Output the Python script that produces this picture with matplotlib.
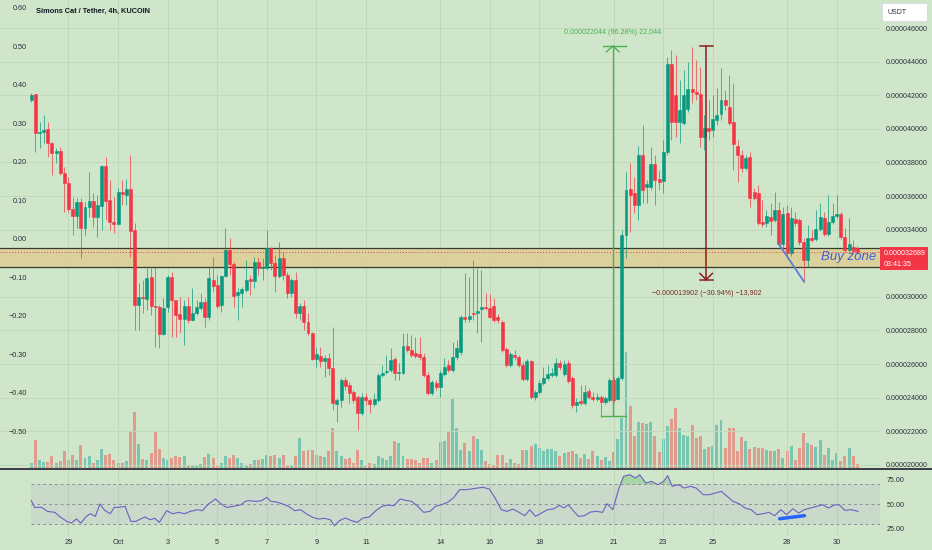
import numpy as np
import matplotlib.pyplot as plt
from matplotlib.patches import Rectangle
from matplotlib.lines import Line2D

plt.rcParams['font.family'] = ['Liberation Sans', 'DejaVu Sans']

# 4h candles of SIMONS/USDT, prices in micro-USDT (1e-6)
opens = [
    41.71, 42.07, 39.75, 39.81, 39.99, 39.16, 38.56, 38.68, 37.37, 36.77,
    35.23, 34.81, 35.64, 34.10, 35.35, 35.70, 34.75, 35.41, 37.79, 35.76,
    34.45, 34.33, 36.24, 36.06, 36.42, 33.98, 29.51, 29.99, 29.87, 31.18,
    29.45, 29.39, 27.79, 29.39, 31.18, 29.81, 28.98, 28.68, 29.45, 28.62,
    29.04, 29.33, 29.69, 28.80, 31.00, 30.70, 29.51, 31.24, 32.79, 31.95,
    30.11, 30.23, 30.40, 31.06, 30.94, 32.07, 31.72, 31.72, 32.91, 32.01,
    31.24, 32.31, 31.30, 30.23, 31.00, 29.04, 29.45, 28.50, 27.85, 26.30,
    26.48, 26.18, 26.36, 25.76, 23.62, 23.86, 25.05, 24.75, 24.33, 24.04,
    23.08, 24.04, 23.86, 23.62, 23.86, 25.35, 25.53, 25.64, 26.30, 25.47,
    25.47, 27.07, 26.83, 26.65, 26.60, 26.42, 25.35, 24.27, 24.87, 24.63,
    25.41, 25.94, 25.64, 26.42, 26.71, 28.80, 28.68, 29.04, 29.04, 29.27,
    29.39, 29.33, 29.45, 28.80, 28.50, 26.89, 25.94, 26.54, 26.42, 25.94,
    25.11, 26.18, 24.04, 24.33, 24.87, 25.17, 25.35, 25.35, 26.06, 25.41,
    26.06, 25.17, 23.56, 23.80, 23.68, 24.39, 24.04, 23.92, 24.04, 23.74,
    23.86, 25.05, 23.92, 25.17, 33.68, 36.42, 36.18, 35.47, 38.44, 36.54,
    36.54, 37.90, 37.01, 36.89, 38.62, 43.86, 42.01, 40.40, 40.34, 41.18,
    42.37, 42.19, 42.07, 39.51, 40.04, 39.93, 40.52, 40.88, 41.71, 41.30,
    40.40, 38.98, 38.44, 37.67, 38.32, 36.24, 36.18, 34.45, 34.39, 34.75,
    34.57, 35.17, 33.14, 34.99, 32.61, 34.63, 34.57, 33.26, 32.19, 33.50,
    33.44, 34.04, 34.69, 33.74, 34.45, 34.81, 34.93, 33.56, 32.79, 32.97,
    32.91]
highs = [
    42.13, 42.07, 40.40, 40.82, 40.40, 39.22, 38.86, 38.92, 37.73, 37.13,
    35.94, 35.88, 35.88, 35.64, 37.43, 36.18, 36.06, 37.85, 38.32, 36.95,
    35.94, 36.48, 36.95, 37.01, 38.44, 34.39, 30.82, 31.00, 31.72, 31.72,
    31.77, 29.51, 29.93, 31.30, 31.48, 29.81, 29.99, 29.81, 29.99, 30.52,
    29.81, 30.23, 29.93, 31.77, 32.37, 31.30, 31.30, 34.10, 33.50, 32.07,
    30.52, 30.58, 32.19, 31.30, 32.37, 32.37, 32.31, 33.98, 32.97, 32.49,
    33.26, 32.67, 31.48, 31.12, 31.48, 29.63, 29.81, 29.04, 27.91, 27.01,
    27.01, 26.54, 26.65, 28.20, 23.98, 25.17, 25.23, 24.93, 24.45, 24.15,
    24.27, 24.27, 23.98, 24.27, 25.47, 25.94, 26.54, 26.95, 26.42, 26.06,
    27.85, 27.85, 27.73, 27.61, 27.61, 26.65, 25.53, 25.05, 25.05, 25.64,
    26.36, 26.24, 27.31, 27.43, 28.92, 31.42, 31.18, 32.19, 31.72, 31.60,
    30.23, 30.17, 29.93, 28.98, 28.62, 27.01, 26.71, 26.83, 26.54, 26.12,
    26.30, 26.24, 24.45, 25.05, 25.82, 25.94, 25.76, 26.36, 26.24, 26.24,
    26.24, 25.29, 23.98, 24.75, 24.75, 24.57, 24.33, 24.27, 24.15, 24.10,
    25.17, 25.23, 25.29, 33.98, 37.43, 37.96, 37.13, 38.98, 40.23, 36.95,
    38.92, 38.44, 37.55, 39.33, 44.27, 44.69, 44.39, 42.90, 43.50, 43.98,
    44.87, 44.10, 43.68, 40.82, 41.71, 42.01, 42.43, 43.62, 42.31, 43.20,
    42.73, 39.33, 38.74, 38.44, 38.62, 36.48, 36.65, 35.76, 35.17, 35.58,
    36.24, 35.64, 35.35, 35.47, 35.35, 35.05, 34.69, 33.50, 34.27, 33.98,
    35.17, 35.58, 35.05, 36.06, 35.58, 36.06, 35.05, 34.10, 34.69, 33.38,
    33.03]
lows = [
    41.60, 38.62, 38.86, 39.16, 38.32, 37.25, 37.96, 37.25, 35.05, 35.05,
    33.68, 34.10, 32.31, 33.68, 34.75, 34.15, 33.56, 33.98, 34.57, 33.98,
    33.80, 34.27, 35.47, 35.47, 32.36, 28.02, 28.02, 29.04, 29.21, 28.92,
    27.01, 26.95, 27.73, 29.10, 27.61, 27.61, 27.85, 27.13, 28.44, 28.55,
    28.92, 29.21, 28.20, 28.62, 30.29, 29.33, 29.10, 31.18, 31.30, 29.39,
    28.62, 29.39, 30.30, 30.11, 30.52, 31.30, 31.00, 31.60, 31.60, 30.29,
    31.12, 31.00, 29.93, 29.99, 28.74, 28.62, 28.02, 27.73, 26.24, 25.82,
    25.82, 25.23, 25.35, 23.26, 22.55, 23.44, 24.45, 23.68, 23.68, 22.07,
    22.96, 23.56, 23.08, 23.50, 23.74, 25.23, 25.41, 25.55, 25.05, 25.05,
    25.40, 26.71, 26.42, 26.36, 26.24, 25.23, 24.15, 24.15, 24.45, 24.04,
    25.29, 25.53, 25.53, 26.24, 26.54, 28.50, 28.50, 28.62, 27.85, 27.31,
    29.21, 28.74, 28.50, 28.44, 26.71, 25.82, 25.82, 26.24, 25.82, 24.99,
    24.99, 23.92, 23.86, 24.21, 24.75, 25.05, 25.23, 25.23, 25.64, 25.29,
    24.87, 23.38, 23.14, 23.56, 23.56, 23.92, 23.80, 23.80, 22.85, 23.62,
    23.74, 23.74, 23.86, 25.05, 32.31, 33.86, 34.99, 34.57, 35.58, 35.58,
    36.36, 35.47, 36.36, 36.18, 38.44, 39.33, 39.51, 39.16, 40.23, 41.00,
    41.54, 41.71, 38.92, 38.74, 39.33, 39.51, 40.23, 40.52, 41.12, 40.23,
    37.55, 36.83, 37.43, 37.55, 35.35, 35.76, 34.27, 34.15, 34.15, 33.68,
    34.45, 32.97, 32.79, 32.31, 32.43, 34.21, 33.08, 30.88, 31.77, 33.26,
    33.32, 33.92, 33.62, 33.62, 34.33, 34.69, 33.44, 32.67, 32.67, 32.61,
    32.55]
closes = [
    42.01, 39.75, 39.81, 39.93, 39.16, 38.56, 38.68, 37.37, 36.77, 35.23,
    34.81, 35.64, 34.10, 35.35, 35.70, 34.75, 35.47, 37.79, 35.70, 34.45,
    34.33, 36.24, 36.12, 36.42, 33.92, 29.51, 29.99, 29.93, 31.12, 29.45,
    29.39, 27.79, 29.33, 31.18, 29.81, 28.92, 28.68, 29.45, 28.62, 29.04,
    29.39, 29.69, 28.80, 31.12, 30.64, 29.45, 31.24, 32.79, 31.95, 30.05,
    30.29, 30.46, 31.00, 30.94, 32.07, 31.72, 31.77, 32.91, 32.01, 31.24,
    32.31, 31.30, 30.23, 31.00, 29.04, 29.45, 28.50, 27.85, 26.30, 26.60,
    26.18, 26.36, 25.76, 23.68, 23.86, 25.05, 24.69, 24.27, 23.86, 23.08,
    24.04, 23.86, 23.62, 23.92, 25.35, 25.47, 25.58, 26.24, 25.47, 25.53,
    27.07, 26.83, 26.54, 26.48, 26.42, 25.35, 24.27, 24.93, 24.63, 25.47,
    25.82, 25.64, 26.42, 26.95, 28.80, 28.68, 28.86, 28.98, 29.16, 29.39,
    29.33, 28.80, 28.62, 28.62, 26.83, 25.94, 26.60, 26.42, 25.94, 25.11,
    26.18, 24.04, 24.33, 24.87, 25.17, 25.41, 25.47, 26.06, 25.82, 26.00,
    24.99, 23.56, 23.74, 23.68, 24.33, 24.04, 23.92, 24.04, 23.74, 23.98,
    25.05, 23.86, 25.17, 33.68, 36.36, 36.06, 35.47, 38.44, 36.36, 36.71,
    37.90, 36.95, 36.83, 38.62, 43.86, 40.40, 40.40, 41.12, 42.01, 42.37,
    42.19, 42.07, 39.51, 40.04, 39.87, 40.58, 40.82, 41.71, 41.42, 40.34,
    39.10, 38.44, 37.67, 38.26, 35.88, 35.88, 34.39, 34.33, 34.81, 34.51,
    35.17, 33.14, 34.93, 32.61, 34.69, 34.39, 33.26, 32.19, 33.50, 33.38,
    34.04, 34.75, 33.74, 34.45, 34.81, 34.93, 33.56, 32.79, 33.14, 32.73,
    32.689]
volume = [
    5, 28, 8, 6, 6, 12, 5, 7, 17, 8,
    13, 8, 23, 10, 12, 5, 8, 19, 13, 14,
    8, 5, 5, 7, 37, 56, 24, 9, 8, 15,
    37, 19, 10, 8, 10, 12, 11, 12, 3, 2,
    3, 4, 11, 14, 10, 2, 5, 12, 10, 13,
    10, 5, 3, 4, 8, 8, 9, 13, 12, 13,
    10, 13, 3, 2, 12, 30, 17, 18, 18, 13,
    12, 11, 17, 40, 17, 12, 9, 10, 5, 18,
    8, 3, 5, 4, 12, 10, 8, 12, 27, 25,
    12, 9, 9, 8, 5, 10, 10, 5, 8, 26,
    27, 36, 70, 40, 18, 25, 17, 32, 29, 18,
    7, 4, 3, 13, 13, 5, 9, 5, 4, 18,
    18, 22, 24, 20, 17, 19, 19, 17, 12, 15,
    16, 17, 14, 10, 14, 9, 17, 12, 8, 11,
    7, 16, 29, 50, 116, 62, 32, 46, 45, 44,
    46, 32, 16, 29, 42, 49, 60, 40, 33, 32,
    43, 30, 32, 19, 21, 22, 43, 48, 20, 40,
    40, 17, 31, 27, 19, 21, 20, 20, 18, 17,
    17, 19, 10, 17, 22, 8, 20, 35, 25, 23,
    21, 28, 13, 20, 8, 15, 7, 12, 20, 12,
    4]

# RSI(14): candle position, value
rsi_pos = [
    0, 0.8, 2.5, 3.9, 5.7, 6.8, 8.6, 9.7, 10.9, 12.0,
    13.3, 14.3, 15.5, 16.6, 17.8, 19.1, 20.1, 21.2, 22.7, 24.1,
    25.3, 26.4, 27.6, 28.7, 29.9, 31.0, 32.8, 34.2, 35.7, 37.1,
    38.5, 40.3, 41.4, 42.9, 44.6, 45.7, 47.2, 48.9, 50.8, 51.8,
    52.9, 54.4, 55.8, 57.0, 58.0, 59.4, 60.9, 62.3, 63.8, 65.2,
    66.6, 68.1, 69.5, 71.0, 72.4, 73.4, 74.6, 76.0, 77.4, 78.9,
    80.3, 81.8, 83.5, 84.9, 86.4, 87.8, 89.3, 90.7, 92.1, 93.6,
    95.0, 96.5, 97.9, 99.3, 100.8, 102.2, 103.7, 105.1, 106.5, 108.0,
    109.4, 110.9, 112.3, 113.8, 115.2, 116.6, 118.1, 119.5, 120.7, 122.1,
    123.5, 125.0, 126.4, 127.9, 129.0, 130.0, 131.0, 132.5, 133.9, 135.4,
    136.8, 138.3, 139.4, 140.8, 142.3, 143.4, 144.9, 146.3, 147.3, 148.8,
    150.2, 151.7, 153.1, 154.1, 155.2, 156.7, 158.1, 159.6, 161.0, 162.7,
    164.2, 165.6, 167.1, 168.5, 169.9, 171.4, 172.8, 174.3, 175.7, 177.2,
    178.6, 180.0, 181.5, 182.9, 184.4, 185.8, 187.2, 188.7, 190.1, 191.6,
    193.0, 194.4, 195.6, 197.0, 198.5, 200.2]
rsi_val = [
    53.4, 46.6, 46.6, 42.5, 41.5, 37.4, 32.3, 30.6, 34.7, 30.6,
    37.4, 40.1, 37.4, 50.0, 43.5, 40.1, 46.6, 46.6, 47.6, 32.3,
    32.3, 34.7, 36.7, 34.0, 35.4, 31.3, 43.2, 40.1, 41.5, 40.1,
    42.5, 44.2, 43.2, 50.0, 55.1, 51.0, 46.6, 47.6, 49.3, 52.7,
    53.4, 52.7, 53.4, 56.8, 52.7, 52.0, 50.0, 47.6, 43.2, 44.2,
    40.1, 36.4, 34.7, 35.4, 34.0, 27.9, 33.0, 35.7, 33.3, 31.3,
    35.7, 36.7, 43.5, 47.6, 49.0, 48.3, 55.1, 53.7, 52.7, 47.6,
    41.5, 42.5, 47.6, 49.3, 51.7, 56.1, 64.6, 64.6, 65.3, 66.3,
    67.0, 65.3, 56.1, 44.2, 42.5, 44.9, 41.5, 38.1, 44.2, 37.4,
    40.8, 44.2, 44.9, 48.6, 45.9, 49.3, 44.2, 37.4, 38.1, 41.8,
    42.5, 41.5, 50.3, 44.2, 66.3, 78.2, 79.9, 76.5, 79.9, 71.4,
    73.1, 69.7, 73.1, 78.9, 68.0, 69.7, 66.3, 68.0, 66.3, 59.5,
    59.5, 61.2, 62.9, 57.8, 52.7, 50.3, 45.9, 44.2, 39.1, 40.1,
    41.5, 38.1, 44.2, 39.1, 45.2, 40.8, 44.2, 45.9, 47.6, 49.3,
    45.9, 49.0, 49.3, 43.5, 44.2, 42.5]

day_pos = [9, 21, 33, 45, 57, 69, 81, 99, 111, 123, 141, 153, 165, 183, 195]
day_labels = ['29', 'Oct', '3', '5', '7', '9', '11', '14', '16', '18',
              '21', '23', '25', '28', '30']

# drawings on the chart
zone_low, zone_high = 31.77, 32.90
up_measure = dict(x=140.8, x0=137.9, x1=144.0, low=22.92, high=44.93)
down_measure = dict(x=163.4, x0=162.0, x1=165.0, high=44.93, low=31.03)
wedge_x, wedge_y = [181, 187.1], [33.14, 30.90]
rsi_trend_x, rsi_trend_y = [181.2, 187.2], [35.0, 38.1]
title = 'Simons Cat / Tether, 4h, KUCOIN'

U = 1e-6
o, h, l, c = (np.array(a) * U for a in (opens, highs, lows, closes))
idx = np.arange(len(closes))
up = c >= o

BG = '#d0e6cb'
GRID = '#c0d9bb'
GREEN = '#089981'
RED = '#f23645'
TXT = '#2a2e39'

W, H = 932, 550
fig = plt.figure(figsize=(W / 100, H / 100), dpi=100, facecolor=BG)


def frame(x0, y0, x1, y1):
    return [x0 / W, 1 - y1 / H, (x1 - x0) / W, (y1 - y0) / H]


xlim = (-7.58, 205.5)

# volume layer (underneath)
ax_vol = fig.add_axes(frame(0, 0, 880, 468))
ax_vol.set_facecolor('none')
vol_col = np.where(up, '#26a69a', '#ef5350')
ax_vol.bar(idx, volume, width=0.72, color=vol_col, alpha=0.5, linewidth=0)
ax_vol.set_xlim(*xlim)
ax_vol.set_ylim(0, 468)
ax_vol.axis('off')

# price layer
ax = fig.add_axes(frame(0, 0, 880, 468))
ax.set_facecolor('none')
ax.set_xlim(*xlim)
ax.set_ylim(19.81 * U, 47.667 * U)
for s in ax.spines.values():
    s.set_visible(False)
ax.yaxis.tick_right()
pt = np.arange(20, 47, 2)
ax.set_yticks(pt * U)
# the 0.000032 label sits under the last-price tag
ax.set_yticklabels(['' if v == 32 else f'{v * U:.9f}' for v in pt])
ax.tick_params(axis='y', length=0, pad=4.5, labelsize=5.1, labelcolor=TXT)
ax.set_xticks(day_pos)
ax.tick_params(axis='x', length=0, labelbottom=False)
ax.grid(True, color=GRID, linewidth=0.7, zorder=0)
ax.set_axisbelow(True)

ax.axhspan(zone_low * U, zone_high * U, color='#dccf98', alpha=0.9, zorder=1, linewidth=0)
for z in (zone_low, zone_high):
    ax.axhline(z * U, color='#3a3a2c', linewidth=0.9, zorder=2)
ax.axhline(c[-1], color=RED, linewidth=0.7, linestyle=(0, (1, 2)), zorder=2)

cols = np.where(up, GREEN, RED)
ax.vlines(idx, l, h, colors=cols, linewidth=0.7, alpha=0.7, zorder=3)
ax.bar(idx, np.abs(c - o), bottom=np.minimum(o, c), width=0.72, color=cols,
       edgecolor=cols, linewidth=0.4, zorder=4)

# long position measure (green)
m = up_measure
gcol = '#4caf50'
ax.plot([m['x'], m['x']], [m['low'] * U, m['high'] * U], color=gcol, lw=1, zorder=5)
ax.plot([m['x0'], m['x1']], [m['low'] * U] * 2, color=gcol, lw=1, zorder=5)
ax.plot([m['x0'] + 0.5, m['x1']], [m['high'] * U] * 2, color=gcol, lw=1, zorder=5)
ax.plot([m['x'] - 1.5, m['x'], m['x'] + 1.5],
        [(m['high'] - 0.34) * U, m['high'] * U, (m['high'] - 0.34) * U], color=gcol, lw=1, zorder=5)
ax.text(m['x'], 45.76 * U, '0.000022044 (96.28%) 22,044', color=gcol, fontsize=5.1,
        ha='center', va='center', zorder=6)

# drop measure (dark red)
m = down_measure
dcol = '#8b1e1e'
ax.plot([m['x'], m['x']], [m['high'] * U, m['low'] * U], color=dcol, lw=1.1, zorder=5)
ax.plot([m['x0'], m['x1']], [m['high'] * U] * 2, color=dcol, lw=1.1, zorder=5)
ax.plot([m['x0'], m['x1']], [m['low'] * U] * 2, color=dcol, lw=1.1, zorder=5)
ax.plot([m['x'] - 1.5, m['x'], m['x'] + 1.5],
        [(m['low'] + 0.36) * U, m['low'] * U, (m['low'] + 0.36) * U], color=dcol, lw=1.1, zorder=5)
ax.text(m['x'] + 0.1, 30.17 * U, '\u22120.000013902 (\u221230.94%) \u221213,902', color='#7a2a22',
        fontsize=5.1, ha='center', va='center', zorder=6)

ax.plot(wedge_x, np.array(wedge_y) * U, color='#5b7fd8', lw=1.3, zorder=5)
ax.text(197.8, 32.37 * U, 'Buy zone', color='#3f5fd6', fontsize=9.5, style='italic',
        ha='center', va='center', zorder=6)

ax.text(36 / 880, 1 - 11 / 468, title, transform=ax.transAxes, fontsize=5.3,
        fontweight='bold', color='#131722', va='center')

# left overlay scale
ax_l = fig.add_axes(frame(0, 0, 880, 468))
ax_l.set_facecolor('none')
for s in ax_l.spines.values():
    s.set_visible(False)
ax_l.set_ylim(-0.5962, 0.6208)
lt = np.round(np.arange(-0.5, 0.61, 0.1), 2)
ax_l.set_yticks(lt)
ax_l.set_yticklabels([f'{v:.2f}'.replace('-', '\u2212') if v != 0 else '0.00' for v in lt])
ax_l.tick_params(axis='y', length=0, pad=-19.5, labelsize=5.2, labelcolor=TXT)
ax_l.set_xticks([])

# RSI pane
ax_r = fig.add_axes(frame(0, 470, 880, 535))
ax_r.set_facecolor('none')
for s in ax_r.spines.values():
    s.set_visible(False)
ax_r.set_xlim(*xlim)
ax_r.set_ylim(18.4, 84.7)
rv = np.array(rsi_val)
ax_r.fill_between([rsi_pos[0], xlim[1]], 30, 70, color='#7e57c2', alpha=0.08, linewidth=0)
ax_r.hlines([70, 50, 30], rsi_pos[0], xlim[1], colors='#8d8f96',
            linestyles=(0, (3, 3)), linewidth=0.7)
ax_r.fill_between(rsi_pos, rv, 70, where=rv > 70, interpolate=True,
                  color='#4caf50', alpha=0.3, linewidth=0)
ax_r.plot(rsi_pos, rv, color='#6d5fc4', linewidth=0.8)
ax_r.plot(rsi_trend_x, rsi_trend_y, color='#2962ff', linewidth=2.5, solid_capstyle='round')
ax_r.yaxis.tick_right()
ax_r.set_yticks([25, 50, 75])
ax_r.set_yticklabels(['25.00', '50.00', '75.00'])
ax_r.tick_params(axis='y', length=0, pad=4.5, labelsize=5.1, labelcolor=TXT)
ax_r.set_xticks(day_pos)
ax_r.set_xticklabels(day_labels)
ax_r.tick_params(axis='x', length=0, pad=3, labelsize=5.3, labelcolor=TXT)
ax_r.grid(axis='x', color=GRID, linewidth=0.7)
ax_r.set_axisbelow(True)

# pane separator
fig.add_artist(Line2D([0, 1], [1 - 469 / H] * 2, transform=fig.transFigure,
                      color='#3a3d45', linewidth=1.4))

# last price tag
fig.add_artist(Rectangle((880 / W, 1 - 270 / H), 48 / W, 23 / H, transform=fig.transFigure,
                         facecolor=RED, edgecolor='none'))
fig.text(884 / W, 1 - 253.5 / H, f'{c[-1]:.9f}', color='white', fontsize=5.1, va='center')
fig.text(884 / W, 1 - 264 / H, '03:41:35', color='white', fontsize=5.1, va='center')

# currency box
fig.add_artist(Rectangle((882 / W, 1 - 21 / H), 45 / W, 18 / H, transform=fig.transFigure,
                         facecolor='white', edgecolor='#d1d4dc', linewidth=0.5))
fig.text(888 / W, 1 - 12 / H, 'USDT', color=TXT, fontsize=5, va='center')

fig.savefig('out.png', dpi=100, facecolor=BG)
